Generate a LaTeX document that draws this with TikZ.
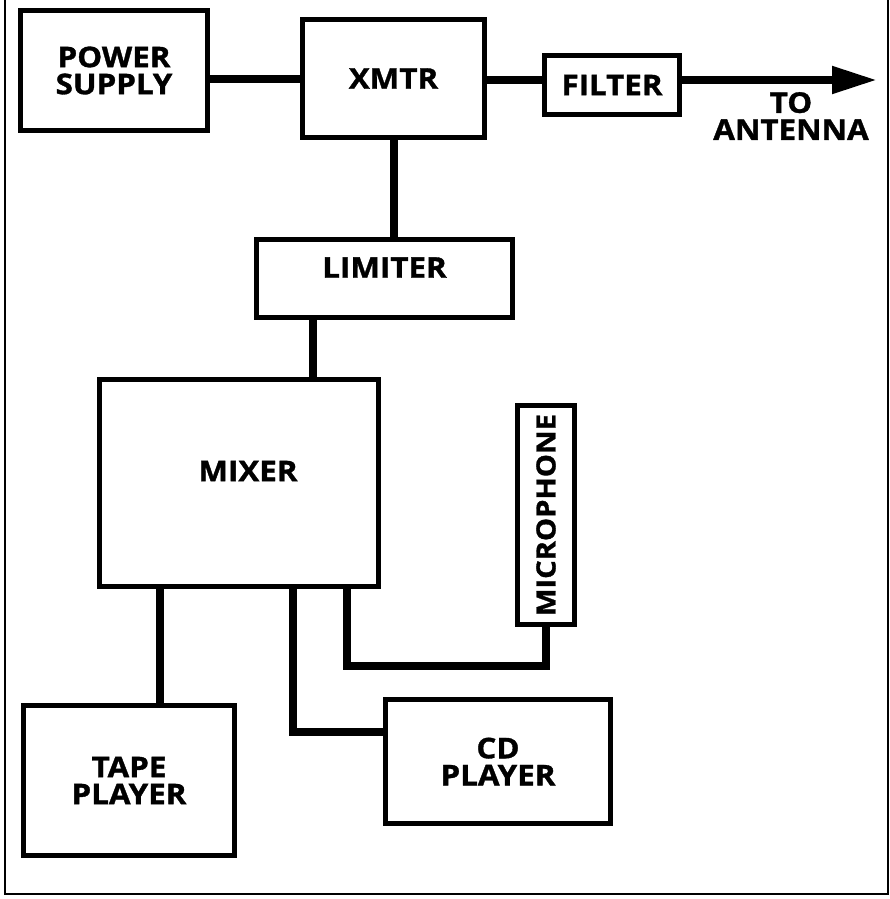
\documentclass[tikz,border=0pt]{standalone}
\usepackage{fontspec}
\newfontfamily\blockfont{Open Sans}[FakeStretch=1.1, BoldFeatures={FakeBold=1.2}]
\usetikzlibrary{arrows.meta, positioning, calc}

\begin{document}
\begin{tikzpicture}[
    x=1pt, y=-1pt,
    font=\blockfont\bfseries\fontsize{28.5}{27}\selectfont,
    block/.style={rectangle, draw=black, line width=5pt, fill=white,
                  align=center, inner sep=0pt},
    wire/.style={line width=8pt},
    feed/.style={line width=8pt, -{Triangle[length=45pt, width=26pt]}},
    frame/.style={line width=2pt}
  ]
  \useasboundingbox (0,0) rectangle (890,899);

  % outer frame
  \draw[frame] (5,0) |- (888,894) -- (888,0);

  \node[block, minimum width=187pt, minimum height=120pt] (power) at (114,70.5)  {POWER\\SUPPLY};
  \node[block, minimum width=182pt, minimum height=118pt] (xmtr)  at (393.5,78.5) {XMTR};
  \node[block, minimum width=135pt, minimum height=59pt]  (filt)  at (612,85)    {FILTER};
  \node[block, minimum width=256pt, minimum height=78pt, text depth=22pt] (lim) at (384.5,278.5) {LIMITER};
  \node[block, minimum width=279pt, minimum height=207pt, text depth=24pt] (mixer) at (239,483) {\hspace*{18pt}MIXER};
  \node[block, minimum width=57pt,  minimum height=219pt] (mic)   at (546,515)
        {\rotatebox{90}{\fontsize{26.5}{27}\selectfont MICROPHONE}};
  \node[block, minimum width=211pt, minimum height=150pt] (tape)  at (129,780.5) {TAPE\\PLAYER};
  \node[block, minimum width=225pt, minimum height=124pt] (cd)    at (498,761.5) {CD\\PLAYER};

  \coordinate (ant) at (877,80);
  \node[align=center] (antlbl) at (791,116) {TO\\ANTENNA};

  % signal chain
  \draw[wire] (xmtr.west) -- (xmtr.west -| power.east);
  \draw[wire] (xmtr.east |- ant) -- (filt.west |- ant);
  \draw[feed] (filt.east |- ant) -- (ant);
  \draw[wire] (xmtr.south) -- (xmtr.south |- lim.north);
  \draw[wire] ([xshift=-71.5pt]lim.south) -- ([xshift=-71.5pt]lim.south |- mixer.north);

  % sources into the mixer
  \draw[wire] ([xshift=-79pt]mixer.south) -- ([xshift=-79pt]mixer.south |- tape.north);
  \draw[wire] ([xshift=54pt]mixer.south) |- ([yshift=29.5pt]cd.west);
  \draw[wire] ([xshift=108pt]mixer.south) |- ([yshift=-38.5pt]mic.south) -- (mic.south);

\end{tikzpicture}
\end{document}
